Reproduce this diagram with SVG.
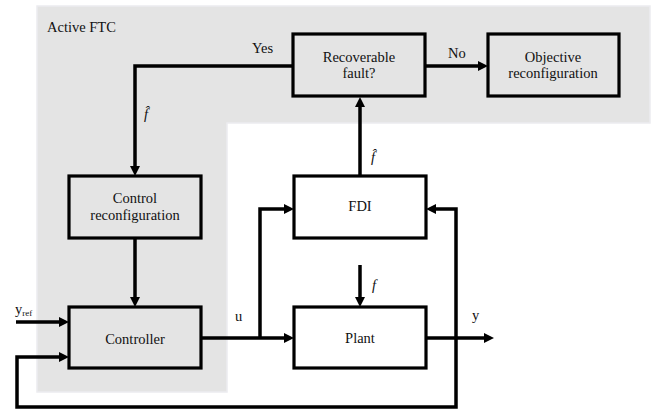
<svg xmlns="http://www.w3.org/2000/svg" width="660" height="412" viewBox="0 0 660 412" font-family="'Liberation Serif', 'Times New Roman', serif">
<style>
text{font-family:'Liberation Serif','Times New Roman',serif;font-size:14.5px;fill:#111}
.c{text-anchor:middle}
.box{stroke:#000;stroke-width:3.2}
.g{fill:#e4e4e4}
.w{fill:#fff}
.con{fill:none;stroke:#000;stroke-width:3.5}
.it{font-style:italic}
</style>
<defs>
<marker id="ah" markerUnits="userSpaceOnUse" markerWidth="12" markerHeight="12" refX="6" refY="5" orient="auto">
<path d="M0,0 L10,5 L0,10 z" fill="#000"/>
</marker>
</defs>
<rect width="660" height="412" fill="#fff"/>
<path d="M37,6 H650 V123 H227 V392 H37 Z" fill="#e4e4e4" stroke="#ecebef" stroke-width="1.5"/>
<text x="47" y="32">Active FTC</text>

<g id="recoverable">
<rect class="box g" x="293" y="34" width="132" height="62"/>
<text class="c" x="359" y="62">Recoverable</text>
<text class="c" x="359" y="78">fault?</text>
</g>
<g id="objective">
<rect class="box g" x="488" y="34" width="131" height="62"/>
<text class="c" x="553" y="62">Objective</text>
<text class="c" x="553" y="78">reconfiguration</text>
</g>
<g id="controlreconf">
<rect class="box g" x="69" y="176" width="132" height="62"/>
<text class="c" x="135" y="203">Control</text>
<text class="c" x="135" y="220">reconfiguration</text>
</g>
<g id="controller">
<rect class="box g" x="69" y="307" width="132" height="61"/>
<text class="c" x="135" y="344">Controller</text>
</g>
<g id="fdi">
<rect class="box w" x="294" y="176" width="132" height="62"/>
<text class="c" x="360" y="211">FDI</text>
</g>
<g id="plant">
<rect class="box w" x="294" y="307" width="132" height="61"/>
<text class="c" x="360" y="343">Plant</text>
</g>

<g id="connectors">
<path class="con" d="M293,66 H135 V172" marker-end="url(#ah)"/>
<path class="con" d="M425,66 H484" marker-end="url(#ah)"/>
<path class="con" d="M360,176 V101" marker-end="url(#ah)"/>
<path class="con" d="M135,238 V303" marker-end="url(#ah)"/>
<path class="con" d="M360,265 V303" marker-end="url(#ah)"/>
<path class="con" d="M201,338 H290" marker-end="url(#ah)"/>
<path class="con" d="M260,338 V209 H290" marker-end="url(#ah)"/>
<path class="con" d="M426,338 H490" marker-end="url(#ah)"/>
<path class="con" d="M456,338 V209 H430" marker-end="url(#ah)"/>
<path class="con" d="M456,338 V407 H17 V357 H65" marker-end="url(#ah)"/>
<path class="con" d="M16,322 H65" marker-end="url(#ah)"/>
</g>

<g id="labels">
<text x="252" y="53">Yes</text>
<text x="448" y="58">No</text>
<text class="it" x="144" y="119">f̂</text>
<text class="it" x="371" y="162">f̂</text>
<text class="it" x="372" y="290">f</text>
<text x="15" y="314">y<tspan style="font-size:9px" dy="2">ref</tspan></text>
<text x="235" y="321">u</text>
<text x="472" y="320">y</text>
</g>
</svg>
